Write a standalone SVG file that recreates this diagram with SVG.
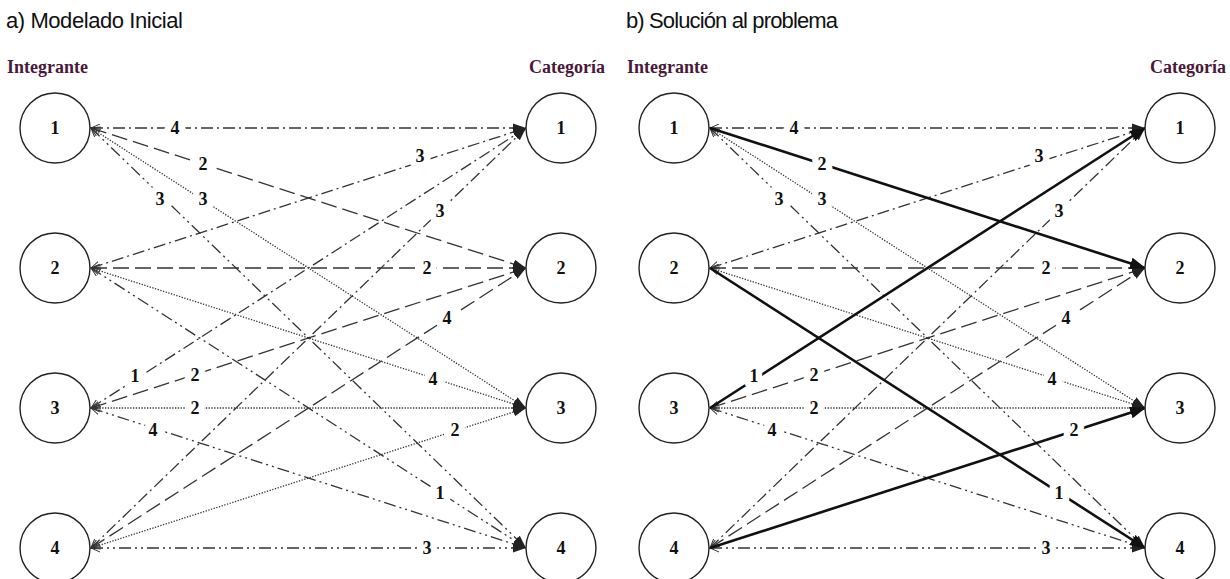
<svg xmlns="http://www.w3.org/2000/svg" width="1230" height="579" viewBox="0 0 1230 579">
<style>
.title{font-family:"Liberation Sans",Arial,sans-serif;font-size:22px;fill:#111}
.hdr{font-family:"Liberation Serif","Times New Roman",serif;font-size:18px;font-weight:bold;fill:#4a1838}
.nc{fill:#fff;stroke:#222;stroke-width:1.4}
.nl{font-family:"Liberation Serif","Times New Roman",serif;font-size:18px;font-weight:bold;fill:#111;text-anchor:middle}
.e{fill:none;stroke:#333;stroke-width:1.3;marker-end:url(#ah);marker-start:url(#oc)}
.t1{stroke-dasharray:12 4 2 4}
.t2{stroke-dasharray:16 6}
.t3{stroke-dasharray:1.3 1.5}
.t4{stroke-dasharray:12 4 2 4 2 4}
.b{fill:none;stroke:#111;stroke-width:2.6;marker-end:url(#ahb)}
.lbl{font-family:"Liberation Serif","Times New Roman",serif;font-size:18px;font-weight:bold;fill:#111;text-anchor:middle;stroke:#fff;stroke-width:13;paint-order:stroke;stroke-linejoin:round}
</style>
<defs>
<marker id="ah" markerUnits="userSpaceOnUse" markerWidth="13" markerHeight="10" refX="13" refY="5" orient="auto"><path d="M0,0.5 L13,5 L0,9.5 z" fill="#222"/></marker>
<marker id="ahb" markerUnits="userSpaceOnUse" markerWidth="16" markerHeight="12" refX="15" refY="6" orient="auto"><path d="M0,0 L16,6 L0,12 z" fill="#111"/></marker>
<marker id="oc" markerUnits="userSpaceOnUse" markerWidth="10" markerHeight="9" refX="9" refY="4.5" orient="auto-start-reverse"><path d="M0,0.5 L9,4.5 L0,8.5" fill="none" stroke="#333" stroke-width="1"/></marker>
</defs>
<rect width="1230" height="579" fill="#fff"/>

<text class="title" x="6" y="28" textLength="177">a) Modelado Inicial</text>
<text class="title" x="626" y="28" textLength="212">b) Solución al problema</text>
<text class="hdr" x="7" y="73">Integrante</text>
<text class="hdr" x="605" y="73" text-anchor="end">Categoría</text>
<text class="hdr" x="627" y="73">Integrante</text>
<text class="hdr" x="1226" y="73" text-anchor="end">Categoría</text>

<g id="connectors-a">
<line class="e t1" x1="91" y1="128" x2="526" y2="128"/>
<line class="e t2" x1="91" y1="128" x2="526" y2="268"/>
<line class="e t3" x1="91" y1="128" x2="526" y2="408"/>
<line class="e t4" x1="91" y1="128" x2="526" y2="548"/>
<line class="e t1" x1="91" y1="268" x2="526" y2="128"/>
<line class="e t2" x1="91" y1="268" x2="526" y2="268"/>
<line class="e t3" x1="91" y1="268" x2="526" y2="408"/>
<line class="e t4" x1="91" y1="268" x2="526" y2="548"/>
<line class="e t1" x1="91" y1="408" x2="526" y2="128"/>
<line class="e t2" x1="91" y1="408" x2="526" y2="268"/>
<line class="e t3" x1="91" y1="408" x2="526" y2="408"/>
<line class="e t4" x1="91" y1="408" x2="526" y2="548"/>
<line class="e t1" x1="91" y1="548" x2="526" y2="128"/>
<line class="e t2" x1="91" y1="548" x2="526" y2="268"/>
<line class="e t3" x1="91" y1="548" x2="526" y2="408"/>
<line class="e t4" x1="91" y1="548" x2="526" y2="548"/>
<text class="lbl" x="175" y="134">4</text>
<text class="lbl" x="203" y="170">2</text>
<text class="lbl" x="203" y="205">3</text>
<text class="lbl" x="160" y="205">3</text>
<text class="lbl" x="420" y="162">3</text>
<text class="lbl" x="427" y="274">2</text>
<text class="lbl" x="433" y="385">4</text>
<text class="lbl" x="440" y="499">1</text>
<text class="lbl" x="135" y="382">1</text>
<text class="lbl" x="195" y="381">2</text>
<text class="lbl" x="195" y="414">2</text>
<text class="lbl" x="153" y="436">4</text>
<text class="lbl" x="440" y="217">3</text>
<text class="lbl" x="447" y="324">4</text>
<text class="lbl" x="455" y="436">2</text>
<text class="lbl" x="427" y="554">3</text>
</g>

<g id="connectors-b">
<line class="e t1" x1="710" y1="128" x2="1145" y2="128"/>
<line class="e t3" x1="710" y1="128" x2="1145" y2="408"/>
<line class="e t4" x1="710" y1="128" x2="1145" y2="548"/>
<line class="e t1" x1="710" y1="268" x2="1145" y2="128"/>
<line class="e t2" x1="710" y1="268" x2="1145" y2="268"/>
<line class="e t3" x1="710" y1="268" x2="1145" y2="408"/>
<line class="e t2" x1="710" y1="408" x2="1145" y2="268"/>
<line class="e t3" x1="710" y1="408" x2="1145" y2="408"/>
<line class="e t4" x1="710" y1="408" x2="1145" y2="548"/>
<line class="e t1" x1="710" y1="548" x2="1145" y2="128"/>
<line class="e t2" x1="710" y1="548" x2="1145" y2="268"/>
<line class="e t4" x1="710" y1="548" x2="1145" y2="548"/>
<line class="b" x1="710" y1="128" x2="1145" y2="268"/>
<line class="b" x1="710" y1="268" x2="1145" y2="548"/>
<line class="b" x1="710" y1="408" x2="1145" y2="128"/>
<line class="b" x1="710" y1="548" x2="1145" y2="408"/>
<text class="lbl" x="794" y="134">4</text>
<text class="lbl" x="822" y="170">2</text>
<text class="lbl" x="822" y="205">3</text>
<text class="lbl" x="779" y="205">3</text>
<text class="lbl" x="1039" y="162">3</text>
<text class="lbl" x="1046" y="274">2</text>
<text class="lbl" x="1052" y="385">4</text>
<text class="lbl" x="1059" y="499">1</text>
<text class="lbl" x="754" y="382">1</text>
<text class="lbl" x="814" y="381">2</text>
<text class="lbl" x="814" y="414">2</text>
<text class="lbl" x="772" y="436">4</text>
<text class="lbl" x="1059" y="217">3</text>
<text class="lbl" x="1066" y="324">4</text>
<text class="lbl" x="1074" y="436">2</text>
<text class="lbl" x="1046" y="554">3</text>
</g>

<g id="a-int-1"><circle class="nc" cx="55" cy="128" r="35"/><text class="nl" x="55" y="134">1</text></g>
<g id="a-int-2"><circle class="nc" cx="55" cy="268" r="35"/><text class="nl" x="55" y="274">2</text></g>
<g id="a-int-3"><circle class="nc" cx="55" cy="408" r="35"/><text class="nl" x="55" y="414">3</text></g>
<g id="a-int-4"><circle class="nc" cx="55" cy="548" r="35"/><text class="nl" x="55" y="554">4</text></g>
<g id="a-cat-1"><circle class="nc" cx="561" cy="128" r="35"/><text class="nl" x="561" y="134">1</text></g>
<g id="a-cat-2"><circle class="nc" cx="561" cy="268" r="35"/><text class="nl" x="561" y="274">2</text></g>
<g id="a-cat-3"><circle class="nc" cx="561" cy="408" r="35"/><text class="nl" x="561" y="414">3</text></g>
<g id="a-cat-4"><circle class="nc" cx="561" cy="548" r="35"/><text class="nl" x="561" y="554">4</text></g>
<g id="b-int-1"><circle class="nc" cx="674" cy="128" r="35"/><text class="nl" x="674" y="134">1</text></g>
<g id="b-int-2"><circle class="nc" cx="674" cy="268" r="35"/><text class="nl" x="674" y="274">2</text></g>
<g id="b-int-3"><circle class="nc" cx="674" cy="408" r="35"/><text class="nl" x="674" y="414">3</text></g>
<g id="b-int-4"><circle class="nc" cx="674" cy="548" r="35"/><text class="nl" x="674" y="554">4</text></g>
<g id="b-cat-1"><circle class="nc" cx="1180" cy="128" r="35"/><text class="nl" x="1180" y="134">1</text></g>
<g id="b-cat-2"><circle class="nc" cx="1180" cy="268" r="35"/><text class="nl" x="1180" y="274">2</text></g>
<g id="b-cat-3"><circle class="nc" cx="1180" cy="408" r="35"/><text class="nl" x="1180" y="414">3</text></g>
<g id="b-cat-4"><circle class="nc" cx="1180" cy="548" r="35"/><text class="nl" x="1180" y="554">4</text></g>
</svg>
